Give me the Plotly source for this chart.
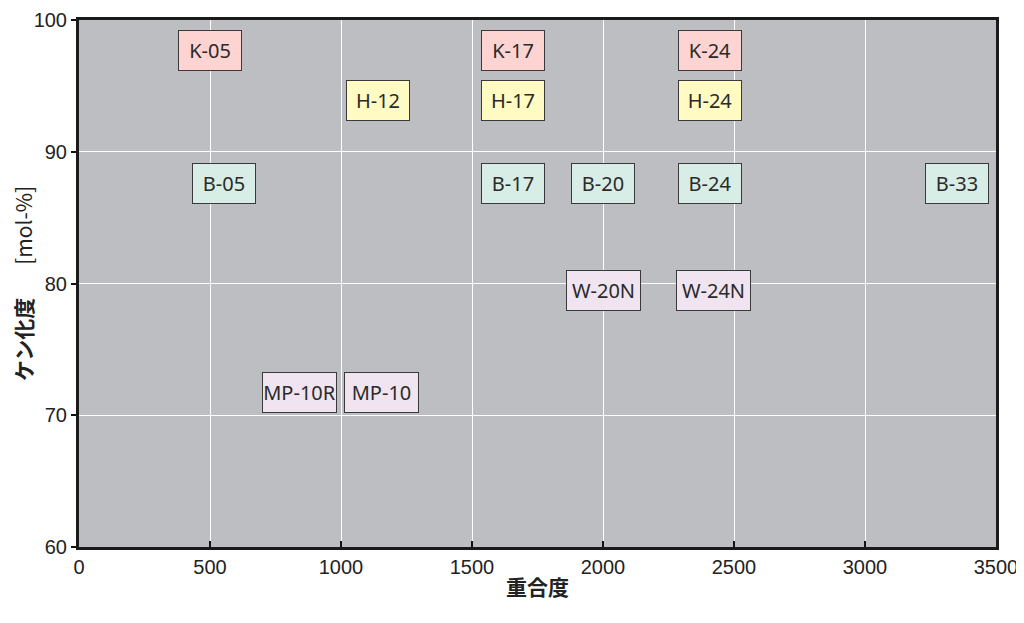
import plotly.graph_objects as go

labels = ["K-05", "H-12", "B-05", "K-17", "H-17", "B-17", "B-20", "K-24", "H-24",
          "B-24", "B-33", "W-20N", "W-24N", "MP-10R", "MP-10"]
polymerization = [500, 1140, 553, 1655, 1655, 1655, 2000, 2410, 2410, 2410, 3350,
                  2000, 2420, 843, 1156]
saponification = [97.7, 93.9, 87.6, 97.7, 93.9, 87.6, 87.6, 97.7, 93.9, 87.6, 87.6,
                  79.5, 79.5, 71.7, 71.7]
x_ticks = [0, 500, 1000, 1500, 2000, 2500, 3000, 3500]
y_ticks = [60, 70, 80, 90, 100]

colors = {"K": "#fdd4d2", "H": "#fffbc2", "B": "#d8ede5", "W": "#efe4ef", "M": "#efe4ef"}

fig = go.Figure()
fig.add_trace(go.Scatter(x=polymerization, y=saponification, mode="markers",
                         marker=dict(size=1, opacity=0), hoverinfo="text",
                         text=labels, showlegend=False))

for lab, xv, yv in zip(labels, polymerization, saponification):
    w = 60 if len(lab) <= 4 else 71
    fig.add_annotation(x=xv, y=yv, xref="x", yref="y", text=lab, showarrow=False,
                       font=dict(family="Noto Sans", size=20, color="#2a2a2a"),
                       bgcolor=colors[lab[0]], bordercolor="#3a3a3a", borderwidth=1,
                       borderpad=1, width=w, height=37, align="center", valign="middle")

axis_font = dict(family="Liberation Sans, Arial", size=20, color="#222")
fig.update_layout(
    width=1016, height=615,
    margin=dict(l=71, r=28, t=12, b=76),
    paper_bgcolor="white", plot_bgcolor="#bdbec2",
    xaxis=dict(range=[0, 3500], tickvals=x_ticks, ticks="inside", ticklen=6, tickwidth=2,
               tickcolor="#111", showline=True, linewidth=3, linecolor="#1a1a1a", mirror=True,
               showgrid=True, gridcolor="white", gridwidth=1, zeroline=False,
               tickfont=axis_font, automargin=False,
               title=dict(text="<b>重合度</b>", standoff=4,
                          font=dict(family="Noto Sans CJK JP", size=21, color="#222"))),
    yaxis=dict(range=[60, 100], tickvals=y_ticks, ticks="outside", ticklen=5, tickwidth=2,
               tickcolor="#111", showline=True, linewidth=3, linecolor="#1a1a1a", mirror=True,
               showgrid=True, gridcolor="white", gridwidth=1, zeroline=False,
               tickfont=axis_font, automargin=False,
               title=dict(text="    <b>ケン化度</b>       [mol-%]", standoff=0,
                          font=dict(family="Noto Sans CJK JP", size=21, color="#222"))),
)

fig.write_html("out.html")
